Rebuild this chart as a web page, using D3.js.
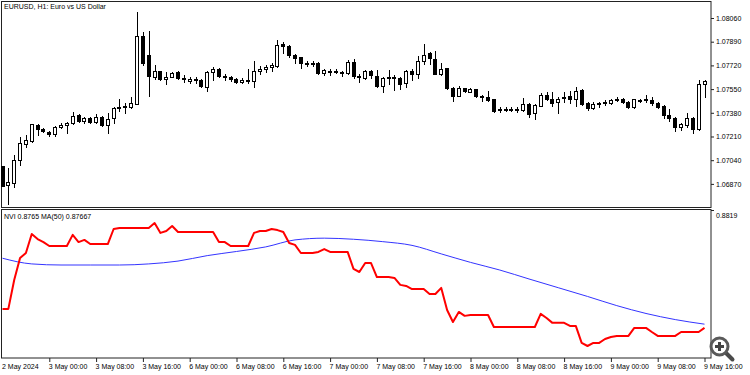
<!DOCTYPE html>
<html>
<head>
<meta charset="utf-8">
<script src="https://cdn.jsdelivr.net/npm/d3@7"></script>
<style>
  body { margin: 0; background: #fff; }
  svg { display: block; }
  text { font-family: "Liberation Sans", Arial, sans-serif; font-size: 7px; fill: #000; }
</style>
</head>
<body>
<svg width="750" height="375"></svg>
<script>
// EURUSD H1, 2 May 16:00 .. 9 May 16:00 (one entry per bar)
const open = [
  1.06999,1.06863,1.06877,1.07042,1.07157,1.07178,1.07293,1.07264,1.07243,1.07228,
  1.07278,1.07293,1.07307,1.07364,1.07321,1.07343,1.07314,1.07350,1.07293,1.07343,
  1.07422,1.07422,1.07422,1.07443,1.07931,1.07795,1.07637,1.07680,1.07623,1.07637,
  1.07673,1.07630,1.07608,1.07615,1.07615,1.07565,1.07673,1.07694,1.07644,1.07637,
  1.07623,1.07601,1.07615,1.07608,1.07680,1.07694,1.07709,1.07716,1.07874,1.07859,
  1.07795,1.07780,1.07737,1.07737,1.07737,1.07666,1.07680,1.07673,1.07673,1.07666,
  1.07744,1.07644,1.07630,1.07680,1.07644,1.07572,1.07630,1.07637,1.07630,1.07594,
  1.07680,1.07658,1.07752,1.07809,1.07766,1.07658,1.07701,1.07558,1.07501,1.07558,
  1.07529,1.07551,1.07501,1.07494,1.07479,1.07400,1.07407,1.07407,1.07400,1.07400,
  1.07443,1.07379,1.07429,1.07508,1.07479,1.07458,1.07486,1.07501,1.07479,1.07544,
  1.07450,1.07415,1.07443,1.07450,1.07450,1.07479,1.07479,1.07458,1.07422,1.07472,
  1.07472,1.07472,1.07450,1.07429,1.07364,1.07343,1.07278,1.07293,1.07343,1.07264,
  1.07587
];
const high = [
  1.06999,1.06984,1.07078,1.07207,1.07221,1.07300,1.07300,1.07271,1.07250,1.07286,
  1.07307,1.07314,1.07386,1.07372,1.07350,1.07350,1.07372,1.07357,1.07379,1.07422,
  1.07479,1.07450,1.07494,1.08103,1.07960,1.07967,1.07723,1.07680,1.07673,1.07673,
  1.07680,1.07651,1.07637,1.07637,1.07623,1.07680,1.07709,1.07701,1.07658,1.07644,
  1.07630,1.07630,1.07694,1.07752,1.07716,1.07723,1.07737,1.07902,1.07888,1.07866,
  1.07802,1.07780,1.07752,1.07752,1.07744,1.07694,1.07694,1.07694,1.07680,1.07759,
  1.07766,1.07658,1.07687,1.07687,1.07687,1.07637,1.07687,1.07651,1.07637,1.07687,
  1.07694,1.07787,1.07874,1.07816,1.07823,1.07737,1.07701,1.07565,1.07572,1.07558,
  1.07558,1.07551,1.07508,1.07537,1.07479,1.07422,1.07422,1.07422,1.07422,1.07486,
  1.07450,1.07443,1.07522,1.07529,1.07529,1.07494,1.07529,1.07537,1.07565,1.07551,
  1.07458,1.07458,1.07458,1.07472,1.07479,1.07494,1.07486,1.07465,1.07479,1.07479,
  1.07508,1.07494,1.07458,1.07436,1.07407,1.07350,1.07307,1.07379,1.07350,1.07615,
  1.07615
];
const low = [
  1.06855,1.06726,1.06848,1.07006,1.07135,1.07171,1.07221,1.07243,1.07214,1.07214,
  1.07271,1.07235,1.07300,1.07314,1.07307,1.07307,1.07307,1.07286,1.07235,1.07307,
  1.07393,1.07379,1.07415,1.07443,1.07723,1.07501,1.07623,1.07615,1.07587,1.07637,
  1.07623,1.07601,1.07594,1.07594,1.07565,1.07537,1.07615,1.07637,1.07615,1.07608,
  1.07594,1.07594,1.07594,1.07565,1.07658,1.07673,1.07680,1.07709,1.07809,1.07780,
  1.07737,1.07701,1.07716,1.07716,1.07658,1.07651,1.07651,1.07666,1.07644,1.07658,
  1.07630,1.07601,1.07623,1.07630,1.07565,1.07529,1.07587,1.07544,1.07551,1.07565,
  1.07615,1.07630,1.07730,1.07730,1.07658,1.07651,1.07551,1.07465,1.07501,1.07529,
  1.07529,1.07494,1.07465,1.07465,1.07386,1.07386,1.07393,1.07393,1.07386,1.07393,
  1.07350,1.07336,1.07429,1.07472,1.07429,1.07379,1.07458,1.07450,1.07429,1.07436,
  1.07400,1.07407,1.07422,1.07436,1.07443,1.07465,1.07450,1.07415,1.07415,1.07458,
  1.07458,1.07436,1.07415,1.07343,1.07321,1.07250,1.07257,1.07278,1.07235,1.07257,
  1.07494
];
const close = [
  1.06855,1.06884,1.07042,1.07164,1.07185,1.07300,1.07264,1.07250,1.07228,1.07278,
  1.07293,1.07307,1.07357,1.07321,1.07343,1.07314,1.07350,1.07293,1.07336,1.07415,
  1.07415,1.07429,1.07450,1.07931,1.07737,1.07644,1.07680,1.07623,1.07637,1.07666,
  1.07630,1.07623,1.07623,1.07623,1.07572,1.07673,1.07694,1.07644,1.07637,1.07623,
  1.07601,1.07615,1.07608,1.07680,1.07694,1.07709,1.07723,1.07866,1.07859,1.07795,
  1.07773,1.07737,1.07737,1.07737,1.07666,1.07687,1.07673,1.07680,1.07666,1.07744,
  1.07644,1.07637,1.07680,1.07651,1.07572,1.07630,1.07637,1.07630,1.07587,1.07680,
  1.07658,1.07752,1.07795,1.07773,1.07658,1.07694,1.07558,1.07501,1.07558,1.07537,
  1.07551,1.07501,1.07494,1.07472,1.07393,1.07407,1.07407,1.07400,1.07407,1.07443,
  1.07372,1.07436,1.07508,1.07479,1.07450,1.07479,1.07494,1.07479,1.07537,1.07443,
  1.07415,1.07443,1.07450,1.07458,1.07472,1.07472,1.07458,1.07422,1.07479,1.07472,
  1.07479,1.07450,1.07422,1.07364,1.07343,1.07278,1.07300,1.07343,1.07264,1.07587,
  1.07608
];

// Negative Volume Index, one value per bar
const nvi = [
  0.87737,0.87737,0.87869,0.87970,0.87993,0.88080,0.88057,0.88043,0.88025,0.88025,
  0.88025,0.88025,0.88076,0.88043,0.88053,0.88034,0.88034,0.88034,0.88034,0.88103,
  0.88108,0.88108,0.88108,0.88108,0.88108,0.88108,0.88130,0.88085,0.88094,0.88117,
  0.88089,0.88089,0.88089,0.88089,0.88089,0.88089,0.88089,0.88043,0.88043,0.88025,
  0.88025,0.88025,0.88025,0.88085,0.88094,0.88094,0.88103,0.88098,0.88089,0.88039,
  0.88030,0.87993,0.87993,0.87993,0.87998,0.88011,0.87998,0.87998,0.87998,0.87998,
  0.87920,0.87906,0.87947,0.87947,0.87883,0.87883,0.87883,0.87879,0.87847,0.87842,
  0.87828,0.87828,0.87828,0.87805,0.87805,0.87833,0.87732,0.87677,0.87723,0.87705,
  0.87709,0.87709,0.87709,0.87709,0.87654,0.87654,0.87654,0.87654,0.87654,0.87654,
  0.87654,0.87654,0.87714,0.87695,0.87673,0.87673,0.87673,0.87659,0.87659,0.87581,
  0.87567,0.87581,0.87581,0.87599,0.87608,0.87613,0.87613,0.87613,0.87650,0.87650,
  0.87650,0.87631,0.87613,0.87613,0.87613,0.87613,0.87631,0.87631,0.87631,0.87631,
  0.87650
];

// MA(50) of NVI, read every 5 bars
const maBars = [0,5,10,15,20,25,30,35,40,45,50,55,60,65,70,75,80,85,90,95,100,105,110,115,120];
const maVals = [
  0.87969,0.87943,0.87938,0.87938,0.87938,0.87943,0.87956,0.87981,0.88000,0.88021,
  0.88053,0.88061,0.88056,0.88045,0.88028,0.87989,0.87950,0.87915,0.87874,0.87834,
  0.87794,0.87752,0.87716,0.87688,0.87667
];

const priceTicks = [1.06870, 1.07040, 1.07210, 1.07380, 1.07550, 1.07720, 1.07890, 1.08060];
const nviTicks = [0.8819];
const timeTicks = [0, 8, 16, 24, 32, 40, 48, 56, 64, 72, 80, 88, 96, 104, 112, 120];
const timeLabels = [
  "2 May 2024", "3 May 00:00", "3 May 08:00", "3 May 16:00", "6 May 00:00", "6 May 08:00",
  "6 May 16:00", "7 May 00:00", "7 May 08:00", "7 May 16:00", "8 May 00:00", "8 May 08:00",
  "8 May 16:00", "9 May 00:00", "9 May 08:00", "9 May 16:00"
];

const svg = d3.select("svg");
const width = +svg.attr("width");
const height = +svg.attr("height");

const frameRight = 711;
const main = { top: 1, bottom: 207 };
const sub = { top: 210, bottom: 358 };

const xScale = d3.scaleLinear().domain([0, 120]).range([2.5, 704.5]);
const yPrice = d3.scaleLinear().domain([1.06697, 1.08182]).range([208, 1]);
const yNvi = d3.scaleLinear().domain([0.87512, 0.8819]).range([sub.bottom, sub.top]);

const bars = d3.range(open.length).map(i => ({
  i, o: open[i], h: high[i], l: low[i], c: close[i]
}));

// panel frames
svg.append("rect")
  .attr("x", 1.5).attr("y", main.top + 0.5)
  .attr("width", frameRight - 1.5).attr("height", main.bottom - main.top)
  .attr("fill", "none").attr("stroke", "#222");

svg.append("rect")
  .attr("x", 1.5).attr("y", sub.top - 0.5)
  .attr("width", frameRight - 1.5).attr("height", sub.bottom - sub.top + 0.5)
  .attr("fill", "none").attr("stroke", "#222");

// candles
const cx = d => Math.round(xScale(d.i));
const candles = svg.append("g").selectAll("g")
  .data(bars)
  .enter()
  .append("g");

candles.append("line")
  .attr("x1", d => cx(d) + 0.5).attr("x2", d => cx(d) + 0.5)
  .attr("y1", d => Math.round(yPrice(d.h)))
  .attr("y2", d => Math.round(yPrice(d.l)) + 1)
  .attr("stroke", "#000");

candles.append("rect")
  .attr("x", d => cx(d) - 1.5)
  .attr("y", d => Math.round(yPrice(Math.max(d.o, d.c))) + 0.5)
  .attr("width", 3)
  .attr("height", d => Math.max(1, Math.round(yPrice(Math.min(d.o, d.c))) - Math.round(yPrice(Math.max(d.o, d.c)))))
  .attr("fill", d => d.c >= d.o ? "#fff" : "#000")
  .attr("stroke", "#000");

// NVI and its moving average
svg.append("path")
  .datum(maVals)
  .attr("fill", "none")
  .attr("stroke", "#3434ff")
  .attr("stroke-width", 1)
  .attr("d", d3.line()
    .x((d, k) => xScale(maBars[k]))
    .y(d => yNvi(d))
    .curve(d3.curveMonotoneX));

svg.append("path")
  .datum(nvi)
  .attr("fill", "none")
  .attr("stroke", "#ff0000")
  .attr("stroke-width", 2)
  .attr("stroke-linejoin", "round")
  .attr("d", d3.line()
    .x((d, k) => xScale(k))
    .y(d => yNvi(d)));

// axes
const priceAxisG = svg.append("g")
  .attr("transform", `translate(${frameRight},0)`)
  .call(d3.axisRight(yPrice).tickValues(priceTicks).tickSize(3).tickPadding(2).tickFormat(d3.format(".5f")));
priceAxisG.select(".domain").remove();

const nviAxisG = svg.append("g")
  .attr("transform", `translate(${frameRight},0)`)
  .call(d3.axisRight(yNvi).tickValues(nviTicks).tickSize(3).tickPadding(2).tickFormat(d3.format(".4f")));
nviAxisG.select(".domain").remove();
nviAxisG.selectAll("text").attr("dy", "1.0em");

const timeAxisG = svg.append("g")
  .attr("transform", `translate(0,${sub.bottom})`)
  .call(d3.axisBottom(xScale).tickValues(timeTicks).tickSize(4).tickFormat((d, k) => timeLabels[k]));
timeAxisG.select(".domain").remove();
timeAxisG.selectAll("text")
  .attr("text-anchor", "start")
  .attr("x", -1)
  .attr("y", 6.5);
timeAxisG.selectAll(".tick").filter(d => d === 0).select("line").remove();

[priceAxisG, nviAxisG, timeAxisG].forEach(g => {
  g.attr("font-family", null).attr("font-size", null);
  g.selectAll("line").attr("stroke", "#222");
  g.selectAll("text").attr("fill", "#000");
});

// titles
svg.append("text").attr("x", 4).attr("y", 9).text("EURUSD, H1:  Euro vs US Dollar");
svg.append("text").attr("x", 4).attr("y", 218.5).text("NVI 0.8765 MA(50) 0.87667");

// zoom glass icon
const glass = svg.append("g").attr("transform", "translate(719.5,346.5)");
glass.append("line")
  .attr("x1", 5).attr("y1", 5).attr("x2", 13).attr("y2", 13)
  .attr("stroke", "#4a4a4a").attr("stroke-width", 4).attr("stroke-linecap", "round");
glass.append("circle")
  .attr("r", 8.5).attr("fill", "#fff").attr("stroke", "#5a5a5a").attr("stroke-width", 3);
glass.append("path")
  .attr("d", "M-4.5,0H4.5M0,-4.5V4.5")
  .attr("stroke", "#444").attr("stroke-width", 3);
</script>
</body>
</html>
